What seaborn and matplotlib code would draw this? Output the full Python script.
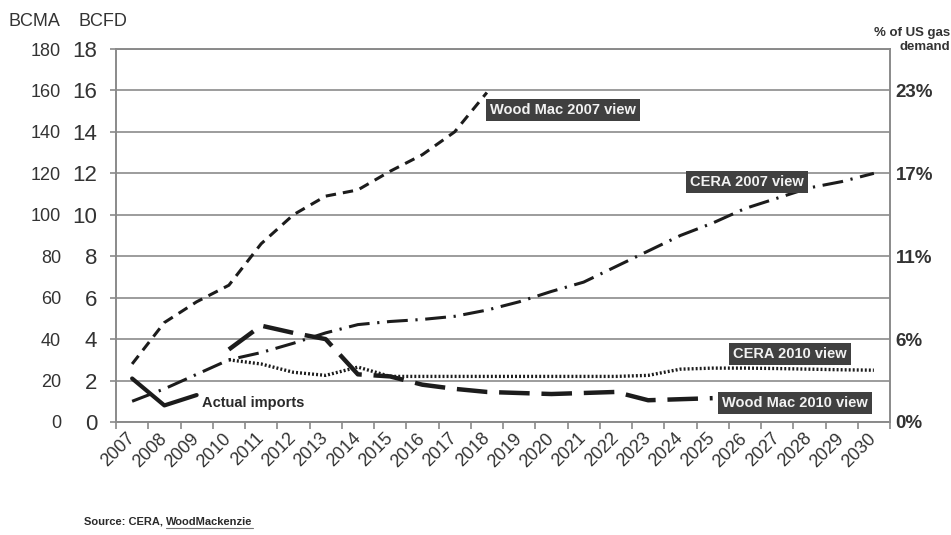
import numpy as np
import pandas as pd
import matplotlib
matplotlib.use("Agg")
import matplotlib.pyplot as plt
from matplotlib.lines import Line2D
import seaborn as sns

# ---------------- data ----------------
years = list(range(2007, 2031))
year_labels = [str(y) for y in years]

wm2007_years = list(range(2007, 2019))
wm2007 = [2.8, 4.8, 5.8, 6.6, 8.6, 10.0, 10.9, 11.2, 12.1, 12.9, 14.0, 15.9]

cera2007_years = list(range(2007, 2031))
cera2007 = [1.0, 1.6, 2.3, 3.0, 3.35, 3.8, 4.3, 4.7, 4.85, 4.95, 5.1, 5.4,
            5.8, 6.3, 6.75, 7.5, 8.25, 9.0, 9.6, 10.3, 10.8, 11.3, 11.6, 12.0]

wm2010_years = list(range(2010, 2026))
wm2010 = [3.5, 4.65, 4.3, 4.0, 2.3, 2.2, 1.8, 1.6, 1.45, 1.4, 1.35, 1.4,
          1.45, 1.05, 1.1, 1.15]

cera2010_years = list(range(2010, 2031))
cera2010 = [3.0, 2.8, 2.4, 2.25, 2.65, 2.2, 2.2, 2.2, 2.2, 2.2, 2.2, 2.2,
            2.2, 2.25, 2.55, 2.6, 2.6, 2.58, 2.55, 2.52, 2.5]

actual_years = [2007, 2008, 2009]
actual = [2.1, 0.8, 1.3]

bcfd_ticks = [0, 2, 4, 6, 8, 10, 12, 14, 16, 18]
bcfd_labels = [str(v) for v in bcfd_ticks]
bcma_ticks = [0, 20, 40, 60, 80, 100, 120, 140, 160, 180]
bcma_labels = [str(v) for v in bcma_ticks]
pct_ticks = [0, 4, 8, 12, 16]
pct_labels = ["0%", "6%", "11%", "17%", "23%"]

# ---------------- style ----------------
sns.set_theme(style="white")
plt.rcParams["font.family"] = ["Liberation Sans", "DejaVu Sans"]
plt.rcParams["lines.scale_dashes"] = False

W, H = 951, 535
fig = plt.figure(figsize=(W / 100, H / 100), dpi=100)
L, R, T, B = 116, 890, 49, 422
ax = fig.add_axes([L / W, (H - B) / H, (R - L) / W, (B - T) / H])

dark = "#1c1c1c"
grid_c = "#9c9c9c"
spine_c = "#8a8a8a"
tick_c = "#333333"

series = [
    (wm2007_years, wm2007, (0, (7.5, 5.0)), 2.2),
    (cera2007_years, cera2007, (0, (15.0, 5.5, 1.6, 5.5)), 2.2),
    (wm2010_years, wm2010, (0, (22.0, 8.5)), 3.2),
    (cera2010_years, cera2010, (0, (1.4, 1.5)), 2.4),
    (actual_years, actual, "-", 3.0),
]
for xs, ys, ls, lw in series:
    df = pd.DataFrame({"year": xs, "value": ys})
    sns.lineplot(data=df, x="year", y="value", ax=ax, color=dark,
                 linewidth=lw, linestyle=ls, zorder=3)

ax.set_xlim(2006.5, 2030.5)
ax.set_ylim(0, 18)
ax.set_xlabel("")
ax.set_ylabel("")

ax.yaxis.grid(True, color=grid_c, linewidth=1.4)
ax.xaxis.grid(False)
ax.set_axisbelow(True)
for s in ax.spines.values():
    s.set_visible(True)
    s.set_color(spine_c)
    s.set_linewidth(1.4)

ax.set_yticks(bcfd_ticks)
ax.set_yticklabels(bcfd_labels, fontsize=16, color=tick_c)
ax.tick_params(axis="y", which="major", left=True, length=4.5, width=1.2,
               color=spine_c, pad=9)

ax.set_xticks(years)
ax.set_xticklabels(year_labels, rotation=45, ha="right", va="center",
                   rotation_mode="anchor", fontsize=13, color=tick_c)
ax.tick_params(axis="x", which="major", bottom=True, length=0, pad=10)
ax.set_xticks(np.arange(2006.5, 2031, 1), minor=True)
ax.tick_params(axis="x", which="minor", bottom=True, length=5, width=1.2,
               color=spine_c, direction="out")

# right axis: share of US gas demand
axr = ax.twinx()
axr.set_ylim(0, 18)
axr.set_yticks(pct_ticks)
axr.set_yticklabels(pct_labels, fontsize=13.5, fontweight="bold", color=tick_c)
axr.tick_params(axis="y", length=0, pad=4)
axr.grid(False)
for s in axr.spines.values():
    s.set_visible(False)

# left outer axis: BCMA
axl = ax.secondary_yaxis("left", functions=(lambda y: y * 10, lambda y: y / 10))
axl.set_yticks(bcma_ticks)
axl.set_yticklabels(bcma_labels, fontsize=13, color=tick_c)
axl.tick_params(axis="y", length=0, pad=39.5)
axl.spines["left"].set_visible(False)

# headers
fig.text(8 / W, 1 - 21 / H, "BCMA", fontsize=13, color=tick_c, ha="left", va="center")
fig.text(78 / W, 1 - 21 / H, "BCFD", fontsize=13, color=tick_c, ha="left", va="center")
fig.text(950 / W, 1 - 33 / H, "% of US gas", fontsize=9.5, fontweight="bold",
         color=tick_c, ha="right", va="center")
fig.text(950 / W, 1 - 47 / H, "demand", fontsize=9.5, fontweight="bold",
         color=tick_c, ha="right", va="center")

# series labels
def ax_frac(px, py):
    return (px - L) / (R - L), (B - py) / (B - T)

box = dict(boxstyle="square,pad=0.3", fc="#404040", ec="none")
for txt, (px, py) in [("Wood Mac 2007 view", (563, 110)),
                      ("CERA 2007 view", (747, 182)),
                      ("CERA 2010 view", (790, 354)),
                      ("Wood Mac 2010 view", (795, 403))]:
    fx, fy = ax_frac(px, py)
    ax.text(fx, fy, txt, transform=ax.transAxes, ha="center", va="center",
            color="#f2f2f2", fontsize=10.5, fontweight="bold", bbox=box, zorder=5)

fx, fy = ax_frac(202, 403)
ax.text(fx, fy, "Actual imports", transform=ax.transAxes, ha="left", va="center",
        color="#2a2a2a", fontsize=10.5, fontweight="bold", zorder=5)

# source
t1 = fig.text(84 / W, 1 - 522 / H, "Source: CERA, ", fontsize=8, fontweight="bold",
              color="#2a2a2a", ha="left", va="center")
fig.canvas.draw()
r = fig.canvas.get_renderer()
bb = t1.get_window_extent(r)
t2 = fig.text(bb.x1 / W, 1 - 522 / H, "WoodMackenzie", fontsize=8, fontweight="bold",
              color="#2a2a2a", ha="left", va="center")
bb2 = t2.get_window_extent(r)
yl = (bb2.y0 - 1) / H
fig.add_artist(Line2D([bb2.x0 / W, bb2.x1 / W], [yl, yl], color="#777777",
                      linewidth=0.8, transform=fig.transFigure))

fig.savefig("out.png", dpi=100, facecolor="white")
